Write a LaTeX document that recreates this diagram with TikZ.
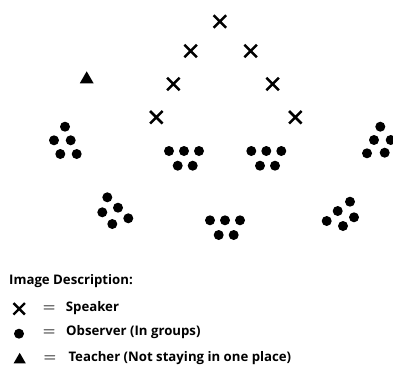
\documentclass[tikz,border=0pt]{standalone}
\usepackage{fontspec}
\setmainfont{Open Sans}
\usetikzlibrary{shapes.misc}
\usetikzlibrary{shapes.geometric}

\tikzset{
  speaker/.style={cross out, draw, line width=2.5pt, minimum size=10pt, inner sep=0pt},
  observer/.style={circle, fill, minimum size=10pt, inner sep=0pt},
  teacher/.style={regular polygon, regular polygon sides=3, fill, inner sep=0pt, minimum size=16pt},
  legtext/.style={anchor=base west, inner sep=0pt, font=\bfseries\fontsize{13.2}{15}\selectfont},
  legeq/.style={inner sep=0pt, font=\boldmath\fontsize{13.5}{15}\selectfont}
}

\begin{document}
\begin{tikzpicture}[x=1pt,y=-1pt]
\useasboundingbox (0,0) rectangle (393,364);

% speakers
\node[speaker] (s1) at (219.8,21.5) {};
\node[speaker] (s2) at (190.7,51) {};
\node[speaker] (s3) at (250.7,51) {};
\node[speaker] (s4) at (173.3,84) {};
\node[speaker] (s5) at (272.7,84) {};
\node[speaker] (s6) at (156.3,117.3) {};
\node[speaker] (s7) at (295.3,117.3) {};

% teacher
\node[teacher] (t1) at (86.7,79.3) {};

% observers, left
\node[observer] (ol1) at (65,126.7) {};
\node[observer] (ol2) at (54,140.3) {};
\node[observer] (ol3) at (70.7,140.3) {};
\node[observer] (ol4) at (60.3,154) {};
\node[observer] (ol5) at (76.7,154) {};

% observers, centre left
\node[observer] (ocl1) at (169,151) {};
\node[observer] (ocl2) at (184,151) {};
\node[observer] (ocl3) at (199,151) {};
\node[observer] (ocl4) at (177.7,165.7) {};
\node[observer] (ocl5) at (192.7,165.7) {};

% observers, centre right
\node[observer] (ocr1) at (251.3,151) {};
\node[observer] (ocr2) at (266.3,151) {};
\node[observer] (ocr3) at (281.3,151) {};
\node[observer] (ocr4) at (260,165.7) {};
\node[observer] (ocr5) at (275,165.7) {};

% observers, right
\node[observer] (or1) at (380.3,126.7) {};
\node[observer] (or2) at (374,140) {};
\node[observer] (or3) at (390.7,140) {};
\node[observer] (or4) at (367,153.3) {};
\node[observer] (or5) at (384.7,152.7) {};

% observers, bottom left
\node[observer] (obl1) at (107.3,197.3) {};
\node[observer] (obl2) at (102.3,212.3) {};
\node[observer] (obl3) at (118,207.7) {};
\node[observer] (obl4) at (112.3,224) {};
\node[observer] (obl5) at (128.3,218.3) {};

% observers, bottom centre
\node[observer] (obc1) at (210,220.3) {};
\node[observer] (obc2) at (225,220.3) {};
\node[observer] (obc3) at (240,220.3) {};
\node[observer] (obc4) at (218.7,235) {};
\node[observer] (obc5) at (233.7,235) {};

% observers, bottom right
\node[observer] (obr1) at (350,201.7) {};
\node[observer] (obr2) at (337.7,211) {};
\node[observer] (obr3) at (354,217.3) {};
\node[observer] (obr4) at (326.7,221) {};
\node[observer] (obr5) at (343,226) {};

% legend
\node[legtext] (title) at (9,284.3) {Image Description:};

\node[speaker, minimum size=9pt, line width=2.4pt] (ks) at (19.2,308.8) {};
\node[observer] (ko) at (19,333.7) {};
\node[teacher, minimum size=14pt] (kt) at (19.7,359.8) {};

\node[legeq] (eq1) at (49.2,308.3) {$=$};
\node[legeq] (eq2) at (49.2,332.3) {$=$};
\node[legeq] (eq3) at (49.8,358.3) {$=$};

\node[legtext] (l1) at (65.7,311.8) {Speaker};
\node[legtext] (l2) at (66,335.8) {Observer (In groups)};
\node[legtext] (l3) at (68.3,361.3) {Teacher (Not staying in one place)};

\end{tikzpicture}
\end{document}
